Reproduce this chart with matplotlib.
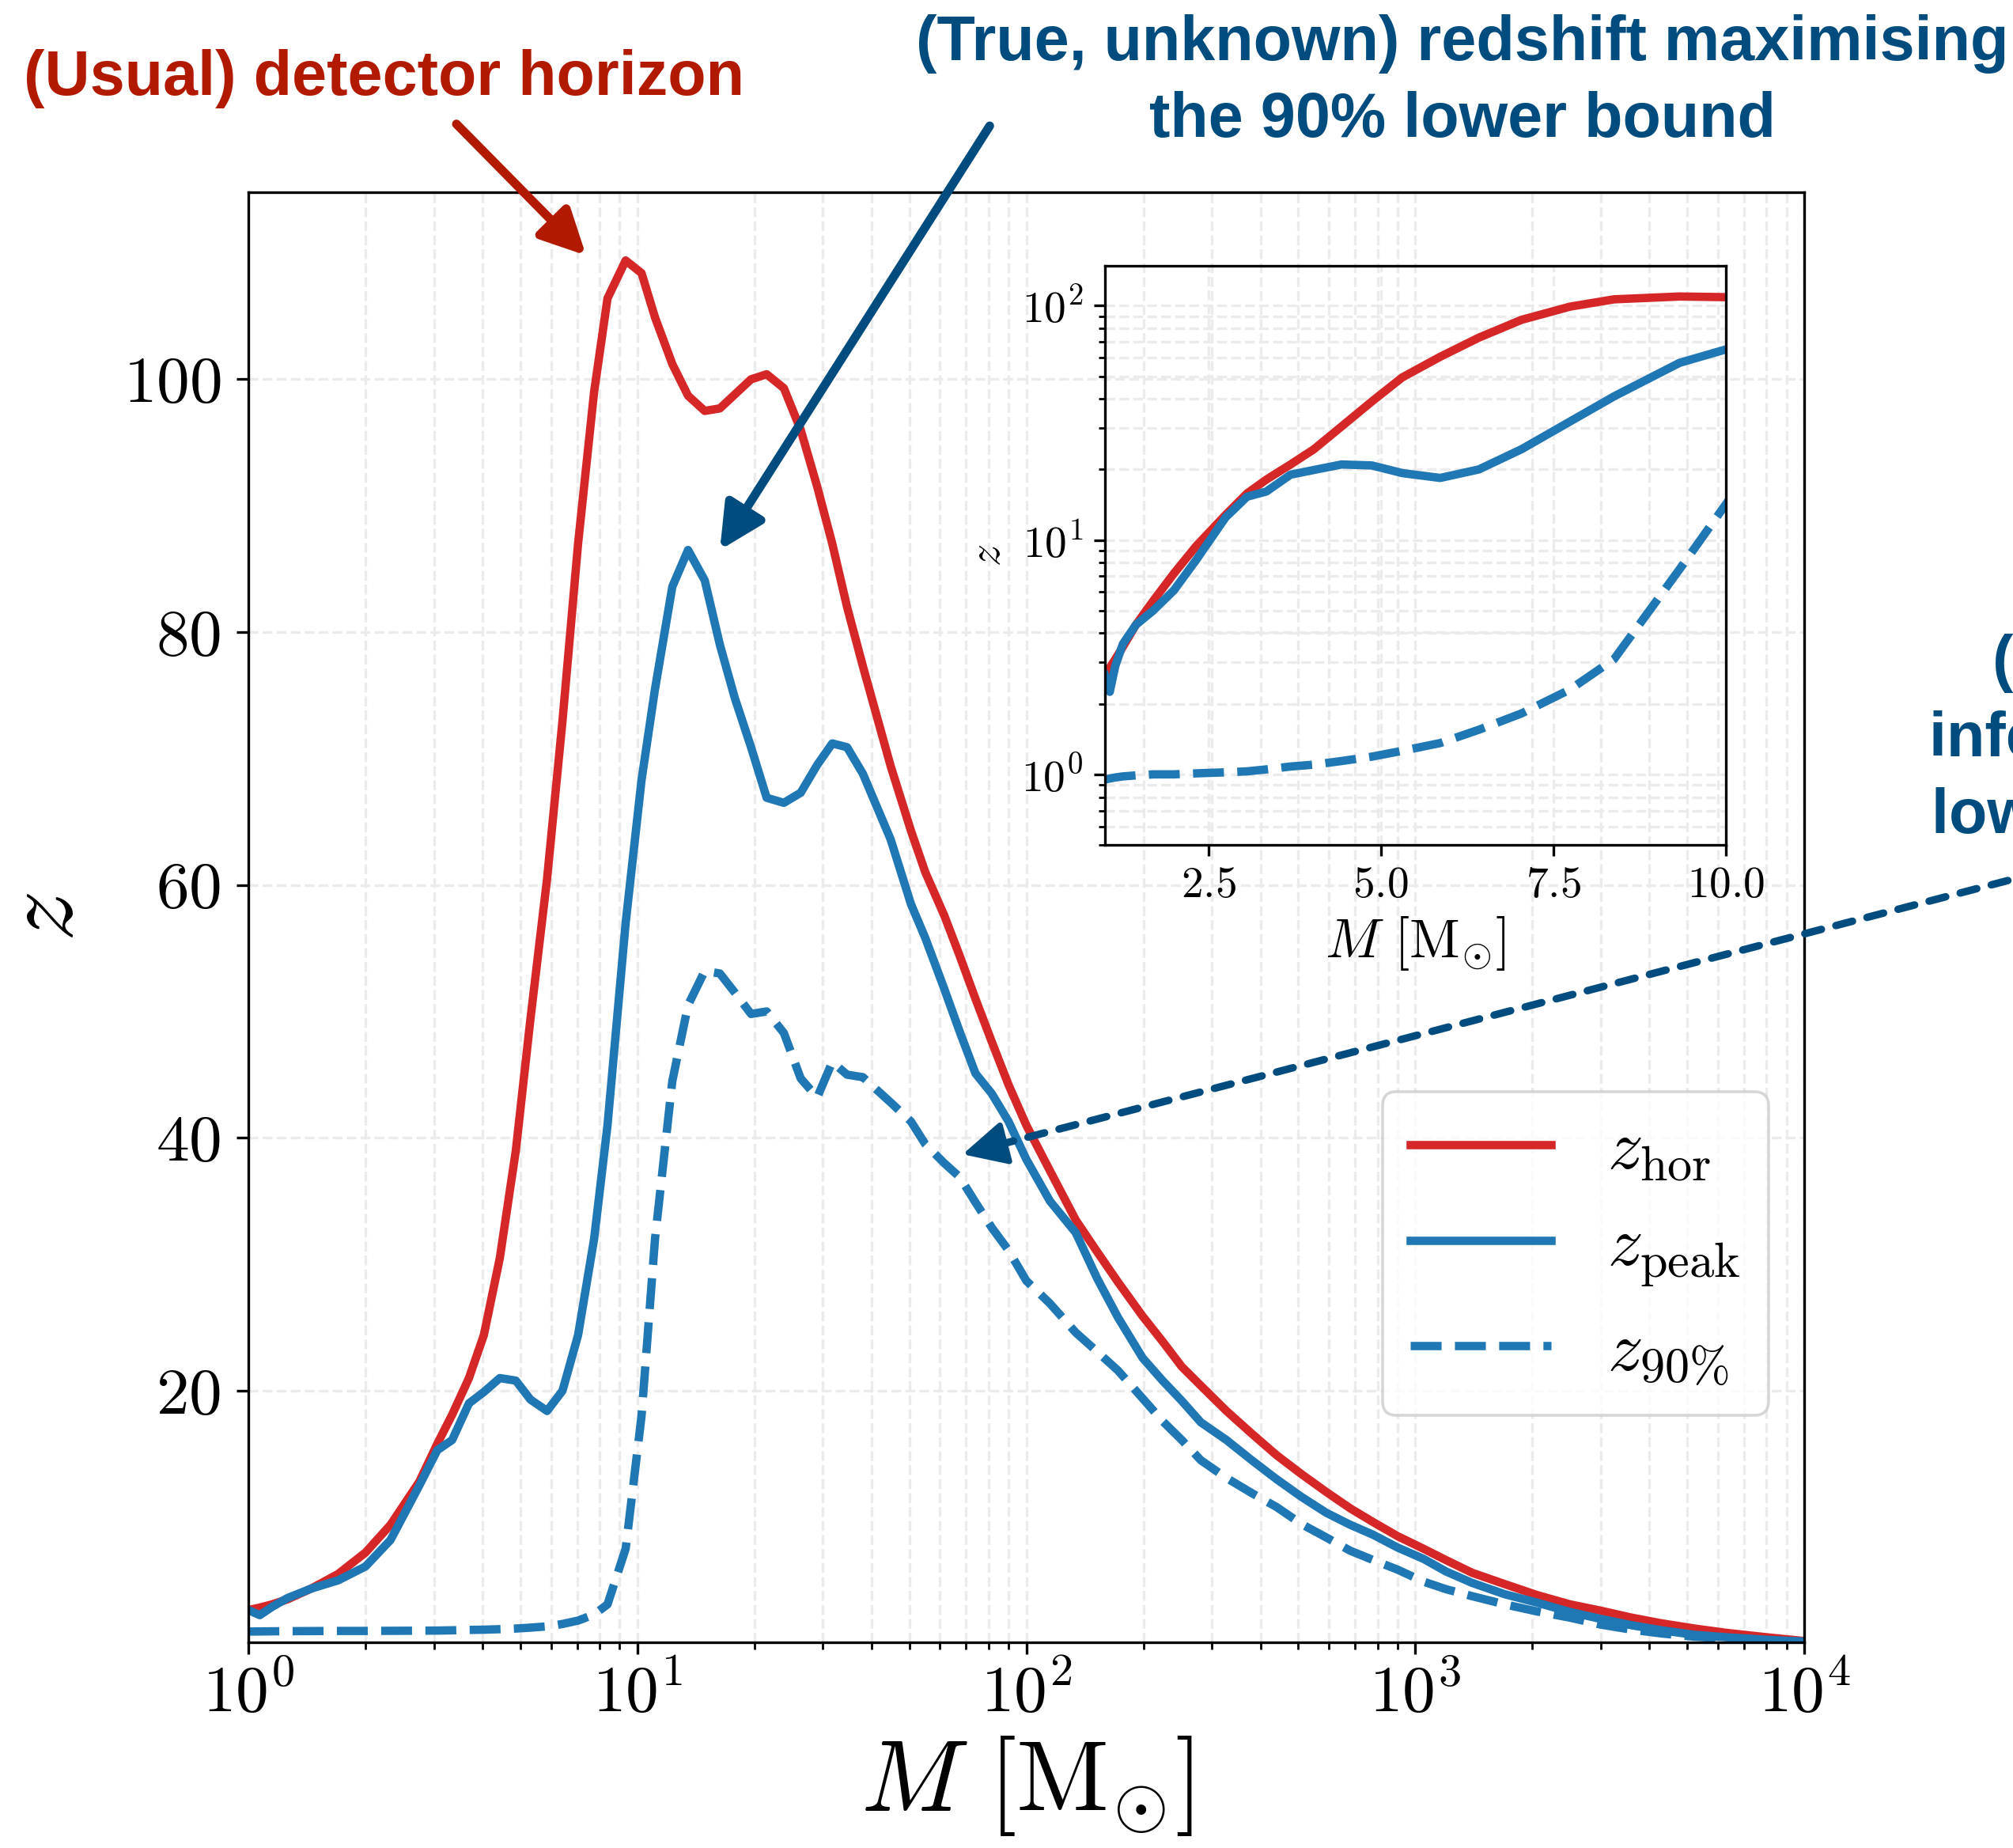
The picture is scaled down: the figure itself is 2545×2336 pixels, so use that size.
import numpy as np
import matplotlib
matplotlib.use("Agg")
import matplotlib.pyplot as plt

plt.rcParams.update({
    "font.family": "serif",
    "font.serif": ["cmr10"],
    "mathtext.fontset": "cm",
    "axes.formatter.use_mathtext": True,
    "axes.unicode_minus": False,
})

# Total mass grid [M_sun]
mass = np.array([
    1.0, 1.07, 1.15, 1.26, 1.45, 1.7, 2.0, 2.32, 2.75, 3.06,
    3.34, 3.69, 4.03, 4.43, 4.87, 5.31, 5.86, 6.42, 7.04, 7.74,
    8.38, 9.33, 10.25, 11.1, 12.3, 13.5, 14.9, 16.3, 17.8, 19.6,
    21.5, 23.8, 26.3, 29.0, 31.7, 34.6, 38.0, 44.8, 50.5, 55.0,
    61.5, 67.4, 74.0, 81.5, 90.0, 100, 115, 134, 152, 172,
    199, 224, 251, 281, 327, 380, 440, 510, 590, 680,
    780, 900, 1050, 1200, 1400, 1700, 2050, 2500, 3000, 3600,
    4300, 5200, 6300, 8000, 10000])

# Detector horizon redshift
z_hor = np.array([
    2.65, 2.85, 3.1, 3.5, 4.35, 5.5, 7.2, 9.4, 12.8, 15.8,
    18.1, 21.0, 24.4, 30.5, 39.0, 49.4, 60.5, 73.0, 87.0, 99.0,
    106.4, 109.4, 108.4, 104.9, 101.2, 98.7, 97.5, 97.7, 98.8, 100.0,
    100.4, 99.3, 96.0, 91.5, 87.0, 82.0, 77.3, 69.4, 64.3, 61.0,
    57.6, 54.4, 51.0, 47.6, 44.2, 41.0, 37.4, 33.5, 31.0, 28.6,
    25.9, 23.9, 21.9, 20.4, 18.4, 16.6, 14.9, 13.4, 12.0, 10.7,
    9.6, 8.5, 7.5, 6.6, 5.6, 4.7, 3.85, 3.1, 2.6, 2.05,
    1.6, 1.2, 0.85, 0.5, 0.2])

# Redshift maximising the 90% lower bound
z_peak = np.array([
    2.65, 2.25, 2.9, 3.6, 4.35, 5.0, 6.1, 8.2, 12.5, 15.3,
    16.1, 19.0, 19.9, 21.0, 20.8, 19.3, 18.4, 20.0, 24.4, 32.0,
    41.0, 57.0, 68.3, 75.5, 83.6, 86.5, 84.1, 79.0, 74.8, 70.9,
    66.9, 66.5, 67.3, 69.5, 71.2, 70.9, 68.8, 63.6, 58.5, 55.8,
    51.8, 48.4, 45.1, 43.5, 41.3, 38.3, 35.0, 32.5, 28.9, 25.8,
    22.6, 20.8, 19.2, 17.5, 16.1, 14.5, 13.0, 11.6, 10.35, 9.4,
    8.6, 7.6, 6.7, 5.7, 4.8, 3.9, 3.25, 2.5, 1.95, 1.45,
    1.05, 0.7, 0.5, 0.3, 0.15])

# Inferred 90% lower bound
z_90 = np.array([
    0.95, 0.96, 0.97, 0.98, 0.99, 1.0, 1.0, 1.01, 1.02, 1.03,
    1.05, 1.08, 1.1, 1.14, 1.19, 1.26, 1.36, 1.55, 1.82, 2.3,
    3.1, 7.5, 18.0, 32.0, 44.5, 50.5, 53.2, 53.0, 51.5, 49.8,
    50.0, 48.3, 44.7, 43.2, 46.0, 45.0, 44.8, 42.8, 41.3, 39.5,
    38.0, 36.9, 34.9, 32.9, 31.1, 28.7, 26.9, 24.6, 23.1, 21.6,
    19.4, 17.6, 16.1, 14.5, 13.1, 11.9, 10.8, 9.45, 8.4, 7.35,
    6.6, 5.85, 4.9, 4.3, 3.75, 3.1, 2.55, 2.05, 1.5, 1.1,
    0.8, 0.55, 0.4, 0.25, 0.15])

RED = "#d62728"
BLUE = "#1f77b4"
RED_TXT = "#b21a00"
BLUE_TXT = "#004c7f"
GRID = dict(color="#ebebeb", ls="--", lw=1.2)
LW = 3.8

W, H, DPI = 2545, 2336, 200
fig = plt.figure(figsize=(W / DPI, H / DPI), dpi=DPI)

# ---- main panel ----
ax = fig.add_axes([0.1234, 0.1113, 0.7729, 0.7847])
ax.plot(mass, z_hor, color=RED, lw=LW, label=r"$z_{\rm hor}$")
ax.plot(mass, z_peak, color=BLUE, lw=LW, label=r"$z_{\rm peak}$")
ax.plot(mass, z_90, color=BLUE, lw=LW, ls="--", label=r"$z_{90\%}$")
ax.set_xscale("log")
ax.set_xlim(1, 1e4)
ax.set_ylim(0.1, 114.8)
ax.set_yticks([20, 40, 60, 80, 100])
ax.grid(True, which="both", **GRID)
ax.set_axisbelow(True)
for s in ax.spines.values():
    s.set_linewidth(1.2)
ax.tick_params(which="major", length=5.5, width=1.2, labelsize=30)
ax.tick_params(which="minor", length=3.2, width=1.0)
ax.tick_params(axis="y", pad=7)
ax.tick_params(axis="x", pad=4)
ax.set_xlabel(r"$M\ [\mathrm{M}_{\odot}]$", fontsize=46, labelpad=4)
ax.set_ylabel(r"$z$", fontsize=46, labelpad=14)

leg = ax.legend(loc="upper right", bbox_to_anchor=(0.977, 0.3797),
                borderaxespad=0, fontsize=32, handlelength=2.0,
                handletextpad=0.8, labelspacing=0.47, borderpad=0.4)
leg.get_frame().set_linewidth(1.3)

# ---- inset: low-mass end on a log redshift scale ----
axi = fig.add_axes([0.5489, 0.5428, 0.3084, 0.3134])
axi.set_facecolor("none")
axi.plot(mass, z_hor, color=RED, lw=LW)
axi.plot(mass, z_peak, color=BLUE, lw=LW)
axi.plot(mass, z_90, color=BLUE, lw=LW, ls="--")
axi.set_yscale("log")
axi.set_xlim(1, 10)
axi.set_ylim(0.5, 148)
axi.set_xticks([2.5, 5.0, 7.5, 10.0])
axi.grid(True, which="both", **GRID)
for s in axi.spines.values():
    s.set_linewidth(1.2)
axi.tick_params(which="major", length=5, width=1.2, labelsize=20, pad=5)
axi.tick_params(which="minor", length=3, width=1.0)
axi.set_xlabel(r"$M\ [\mathrm{M}_{\odot}]$", fontsize=25, labelpad=4)
axi.set_ylabel(r"$z$", fontsize=20, labelpad=6)

# ---- annotations (va="baseline" pins the last line's baseline) ----
txt = dict(family="Liberation Sans", fontweight="bold", fontsize=28.5,
           ha="center", va="baseline")
fig.text(486 / W, 1 - 120 / H, "(Usual) detector horizon",
         color=RED_TXT, **txt)
fig.text(1849 / W, 1 - 173 / H,
         "(True, unknown) redshift maximising\nthe 90% lower bound",
         color=BLUE_TXT, linespacing=1.38, **txt)
fig.text(2677 / W, 1 - 1053 / H, "(Known)\ninferred 90%\nlower bound",
         color=BLUE_TXT, linespacing=1.38, **txt)

head = "-|>,head_length=17,head_width=8.5"
ax.annotate("", xy=(7.38, 109.8), xytext=(-59.0, 59.8),
            textcoords="offset points", annotation_clip=False,
            arrowprops=dict(arrowstyle=head, mutation_scale=1, lw=4,
                            color=RED_TXT, shrinkA=0, shrinkB=0))
ax.annotate("", xy=(16.3, 86.5), xytext=(122.8, 193.0),
            textcoords="offset points", annotation_clip=False,
            arrowprops=dict(arrowstyle=head, mutation_scale=1, lw=4,
                            color=BLUE_TXT, shrinkA=0, shrinkB=0))
# dotted shaft + solid head
ax.annotate("", xy=(68.6, 38.7), xytext=(504, 132),
            textcoords="offset points", annotation_clip=False,
            arrowprops=dict(arrowstyle="-", lw=3.4, ls=(0, (2.3, 2.0)),
                            color=BLUE_TXT, shrinkA=0, shrinkB=14))
ax.annotate("", xy=(68.6, 38.7), xytext=(17.4, 4.55),
            textcoords="offset points", annotation_clip=False,
            arrowprops=dict(arrowstyle=head, mutation_scale=1, lw=2.5,
                            color=BLUE_TXT, shrinkA=0, shrinkB=0))

fig.savefig("out.png", dpi=DPI)
